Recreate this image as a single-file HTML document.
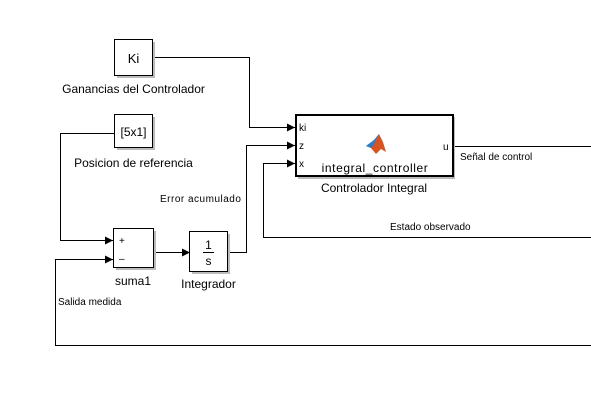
<!DOCTYPE html>
<html><head><meta charset="utf-8"><style>
html,body{margin:0;padding:0;background:#fff;}
svg{display:block;font-family:"Liberation Sans",Arial,sans-serif;}
</style></head><body>
<svg width="591" height="412" viewBox="0 0 591 412" xmlns="http://www.w3.org/2000/svg">
<defs>
<marker id="a" markerWidth="8" markerHeight="8" refX="8" refY="4" orient="auto" markerUnits="userSpaceOnUse">
<path d="M0,0 L8,4 L0,8 Z" fill="#000"/></marker>
</defs>
<g fill="none" stroke="#000" stroke-width="1">
<!-- Ki -->
<polyline points="153.5,57.5 249.5,57.5 249.5,127.5 295,127.5" marker-end="url(#a)"/>
<!-- ref -->
<polyline points="114,133.5 60.5,133.5 60.5,240.5 113,240.5" marker-end="url(#a)"/>
<!-- measured -->
<polyline points="591,345.5 55.5,345.5 55.5,259.5 113,259.5" marker-end="url(#a)"/>
<!-- sum out -->
<polyline points="153,252.5 190,252.5" marker-end="url(#a)"/>
<!-- integ out -->
<polyline points="228,252.5 246.5,252.5 246.5,145.5 295,145.5" marker-end="url(#a)"/>
<!-- estado -->
<polyline points="591,237.5 263.5,237.5 263.5,163.5 295,163.5" marker-end="url(#a)"/>
<!-- u -->
<line x1="453" y1="146.5" x2="591" y2="146.5"/>
</g>
<!-- blocks with shadow -->
<g fill="#bbb">
<rect x="117" y="42" width="38" height="36"/>
<rect x="117" y="117" width="38" height="33"/>
<rect x="116" y="231" width="40" height="39"/>
<rect x="192" y="234" width="38" height="40"/>
<rect x="298" y="117" width="157" height="62"/>
</g>
<g fill="#fff" stroke="#000" stroke-width="1">
<rect x="114.5" y="39.5" width="38" height="36"/>
<rect x="114.5" y="114.5" width="38" height="33"/>
<rect x="113.5" y="228.5" width="40" height="39"/>
<rect x="189.5" y="231.5" width="38" height="40"/>
</g>
<rect x="296" y="115" width="157" height="61" fill="#fff" stroke="#000" stroke-width="2"/>
<g font-size="12" fill="#000">
<text x="133.5" y="63" text-anchor="middle" font-size="13">Ki</text>
<text x="133.5" y="136" text-anchor="middle">[5x1]</text>
<text x="133.5" y="93" text-anchor="middle">Ganancias del Controlador</text>
<text x="133.5" y="167" text-anchor="middle">Posicion de referencia</text>
<text x="133" y="285" text-anchor="middle">suma1</text>
<text x="208.5" y="288" text-anchor="middle">Integrador</text>
<text x="374" y="192" text-anchor="middle">Controlador Integral</text>
<text x="375" y="172" text-anchor="middle" letter-spacing="0.6">integral_controller</text>
<text x="208.5" y="249" text-anchor="middle">1</text>
<text x="208.5" y="265" text-anchor="middle">s</text>
</g>
<line x1="203" y1="252.5" x2="214" y2="252.5" stroke="#000"/>
<g font-size="10" fill="#000">
<text x="119" y="244">+</text>
<text x="119" y="262">–</text>
<text x="299" y="131">ki</text>
<text x="299" y="149">z</text>
<text x="299" y="167">x</text>
<text x="443" y="150">u</text>
<text x="460" y="160">Señal de control</text>
<text x="390" y="230">Estado observado</text>
<text x="58" y="305">Salida medida</text>
<text x="160" y="202" letter-spacing="0.5">Error acumulado</text>
</g>
<!-- matlab logo -->
<path d="M366,146 L374,140 L379,134 L383,142 L386,152 L381,149 L376,154 L371,148 Z" fill="#d9531e"/>
<path d="M366,146 L374,140 L379,134 L374,145 L371,148 Z" fill="#2c7cc6"/>
</svg>
</body></html>
